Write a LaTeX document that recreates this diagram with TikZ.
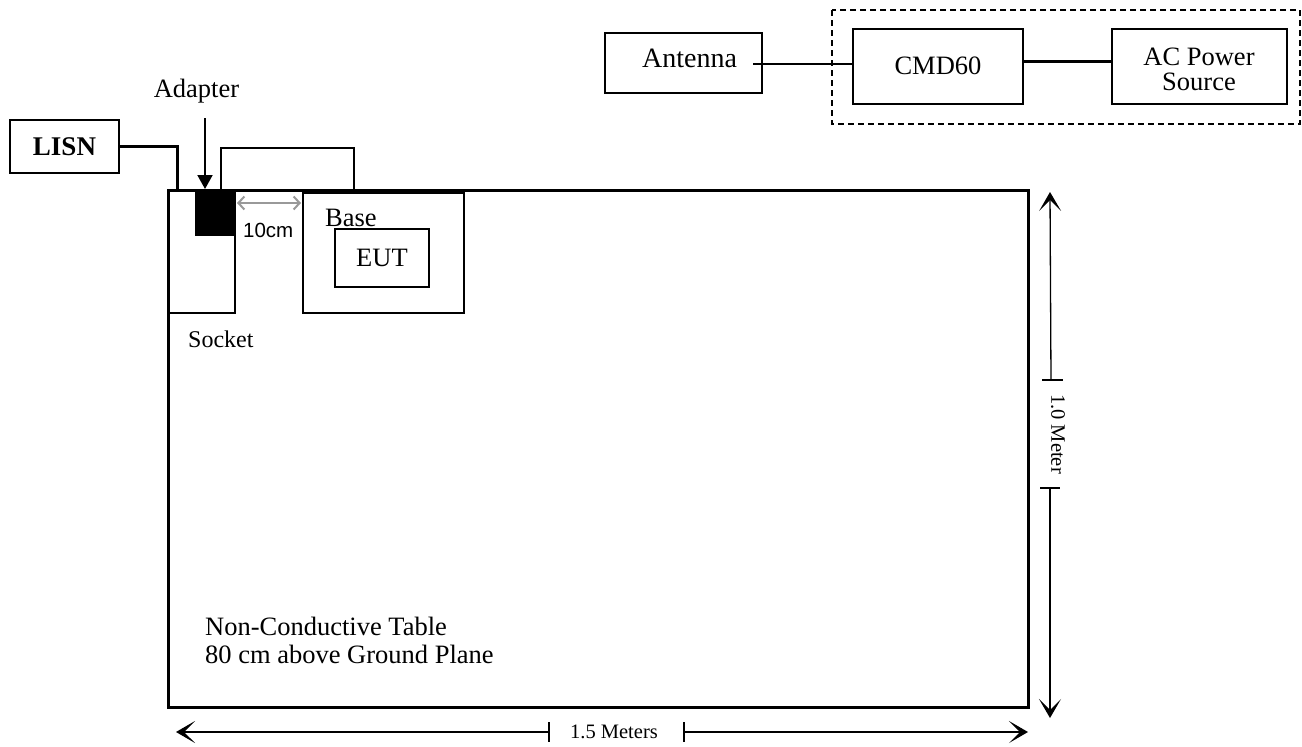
\documentclass[tikz,border=0pt]{standalone}
\usepackage{fontspec}
\setmainfont{Liberation Serif}
\newfontfamily\arialfont{Liberation Sans}
\usetikzlibrary{arrows.meta}
\begin{document}
\begin{tikzpicture}[x=1pt,y=-1pt,
  box/.style={draw,line width=1.5pt,inner sep=0pt,outer sep=0pt,anchor=north west},
  thickline/.style={line width=3pt},
  thinline/.style={line width=1.5pt},
  dim/.style={line width=1.3pt},
  dimhead/.style={-{Stealth[length=19pt,width=22pt,inset=11pt]}},
  txt/.style={inner sep=0pt,font=\fontsize{26.5}{30}\selectfont},
  dimtxt/.style={inner sep=0pt,font=\fontsize{20.5}{24}\selectfont}]
\useasboundingbox (0,0) rectangle (1302,747);

% table
\node[box,line width=3pt,minimum width=860pt,minimum height=517pt] (table) at (168,190) {};
% LISN
\node[box,minimum width=109pt,minimum height=53pt,txt,font=\fontsize{27}{30}\selectfont\bfseries] (lisn) at (10,120) {LISN};
% socket and adapter
\node[box,minimum width=66pt,minimum height=123pt] (socket) at (169,190) {};
\node[box,fill=black,minimum width=39pt,minimum height=45pt] (adapter) at (196,190) {};
% base and EUT
\node[box,minimum width=161pt,minimum height=120pt] (base) at (303,193) {};
\node[box,minimum width=94pt,minimum height=58pt,txt] (eut) at (335,229) {EUT};

% labels on the table
\node[txt,anchor=base] (adlabel) at (196.5,97) {Adapter};
\node[txt,anchor=base west,font=\fontsize{24}{28}\selectfont] (socklabel) at (188,347) {Socket};
\node[txt,anchor=base west] (baselabel) at (325,226) {Base};
\node[inner sep=0pt,anchor=base west,font=\arialfont\fontsize{20.5}{24}\selectfont] (cmlabel) at (243,237) {10cm};
\node[txt,anchor=base west] (tab1) at (205,635) {Non-Conductive Table};
\node[txt,anchor=base west] (tab2) at (205,663) {80 cm above Ground Plane};

% cables
\coordinate (lisnin) at (177,190);
\draw[thickline] (lisn.east) -| (lisnin);
\coordinate (cabA) at (221,190);
\coordinate (cabB) at (354,190);
\draw[thinline] (cabA) -- (221,148) -- (354,148) -- (cabB);
\coordinate (adtop) at (205,118);
\coordinate (adbot) at (205,189);
\draw[line width=2pt,-{Triangle[length=14pt,width=15pt]}] (adtop) -- (adbot);
\coordinate (gA) at (237,203);
\coordinate (gB) at (301,203);
\draw[line width=2pt,draw=black!40,{Straight Barb[length=6pt,width=13pt]}-{Straight Barb[length=6pt,width=13pt]}] (gA) -- (gB);

% top right equipment
\node[box,minimum width=157pt,minimum height=60pt] (antenna) at (605,33) {};
\node[txt,anchor=base west,font=\fontsize{28}{32}\selectfont] (anttext) at (642,67) {Antenna};
\node[box,minimum width=170pt,minimum height=75pt] (cmd) at (853,29) {};
\node[txt,anchor=base] (cmdtext) at (938,74) {CMD60};
\node[box,minimum width=175pt,minimum height=75pt] (ac) at (1112,29) {};
\node[txt,anchor=base] (actext1) at (1199,65) {AC Power};
\node[txt,anchor=base] (actext2) at (1199,90) {Source};
\draw[thinline,dash pattern=on 6pt off 4pt] (832,10) rectangle (1300,124);
\coordinate (antout) at (753,64);
\draw[thinline] (antout) -- (cmd.west |- antout);
\coordinate (cmdout) at (1023,61);
\draw[thickline] (cmdout) -- (ac.west |- cmdout);

% vertical dimension
\coordinate (vtop) at (1050,192);
\coordinate (vt1) at (1051,380);
\coordinate (vt2) at (1050,488);
\coordinate (vbot) at (1050,718);
\draw[dim,dimhead] (vt1) -- (vtop);
\draw[dim] (1042,380) -- (1063,380);
\draw[dim,dimhead] (vt2) -- (vbot);
\draw[dim] (1040,488) -- (1060,488);
\node[dimtxt,rotate=-90] (vlabel) at (1058,434) {1.0 Meter};

% horizontal dimension
\coordinate (hleft) at (176,732);
\coordinate (ht1) at (549,732);
\coordinate (ht2) at (684,732);
\coordinate (hright) at (1028,732);
\draw[dim,dimhead] (ht1) -- (hleft);
\draw[dim] (549,722) -- (549,742);
\draw[dim,dimhead] (ht2) -- (hright);
\draw[dim] (684,722) -- (684,742);
\node[dimtxt] (hlabel) at (614,732) {1.5 Meters};
\end{tikzpicture}
\end{document}
